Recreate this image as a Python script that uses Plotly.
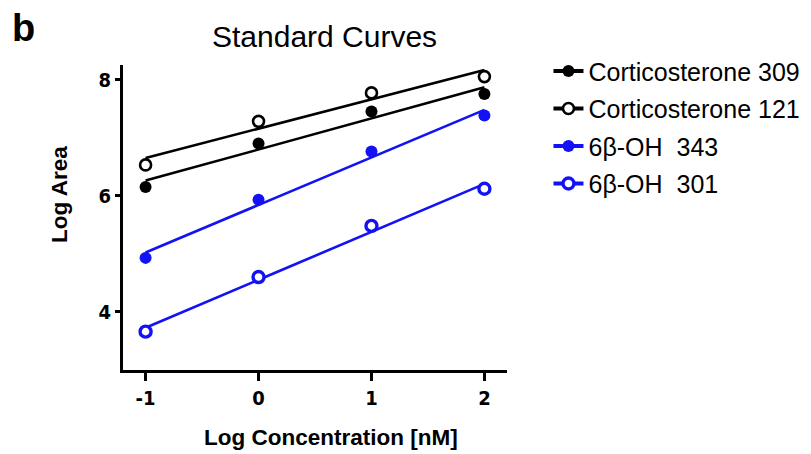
import numpy as np
import plotly.graph_objects as go

log_conc = [-1, 0, 1, 2]
series_names = ["Corticosterone 309", "Corticosterone 121", "6β-OH  343", "6β-OH  301"]
cort_309 = [6.15, 6.90, 7.45, 7.75]
cort_121 = [6.53, 7.28, 7.77, 8.05]
oh_343 = [4.93, 5.93, 6.76, 7.38]
oh_301 = [3.66, 4.60, 5.48, 6.12]
x_ticks = [-1, 0, 1, 2]
y_ticks = [4, 6, 8]

BLUE = "#1212f5"
styles = [
    dict(color="black", open=False, lw=2.6),
    dict(color="black", open=True, lw=2.6),
    dict(color=BLUE, open=False, lw=3.2),
    dict(color=BLUE, open=True, lw=3.4),
]
data = [cort_309, cort_121, oh_343, oh_301]

fig = go.Figure()
xs = np.array(log_conc, dtype=float)
for name, ys, st in zip(series_names, data, styles):
    ys = np.array(ys, dtype=float)
    slope, icpt = np.polyfit(xs, ys, 1)
    xl = np.array([xs.min(), xs.max()])
    if st["open"]:
        marker = dict(symbol="circle", size=11, color="white",
                      line=dict(color=st["color"], width=st["lw"]))
    else:
        marker = dict(symbol="circle", size=12, color=st["color"],
                      line=dict(color=st["color"], width=0))
    fig.add_trace(go.Scatter(x=xl, y=slope * xl + icpt, mode="lines",
                             line=dict(color=st["color"], width=2.6),
                             showlegend=False, hoverinfo="skip"))
    fig.add_trace(go.Scatter(x=xs, y=ys, mode="markers", marker=marker,
                             showlegend=False, name=name))
    fig.add_trace(go.Scatter(x=[None], y=[None], mode="lines+markers", name=name,
                             marker=marker, line=dict(color=st["color"], width=4),
                             legendgroup=name, showlegend=True))

tick_font = dict(family="DejaVu Sans Condensed, Liberation Sans Narrow, Arial Narrow",
                 size=20, color="black")
label_font = dict(size=22.5, family="Liberation Sans, Arial", color="black")
fig.update_layout(
    width=803, height=446,
    margin=dict(l=115, r=304, t=57, b=84, autoexpand=False),
    plot_bgcolor="white", paper_bgcolor="white",
    font=dict(family="Liberation Sans, Arial", color="black"),
    legend=dict(x=1.108, y=1.055, xanchor="left", yanchor="top",
                font=dict(size=25, family="Liberation Sans, Arial", color="black"),
                tracegroupgap=2, bgcolor="rgba(0,0,0,0)", itemwidth=30),
    xaxis=dict(range=[-1.2, 2.2], tickvals=x_ticks, ticktext=[f"<b>{v}</b>" for v in x_ticks],
               automargin=False,
               showgrid=False, zeroline=False, showline=True, linecolor="black", linewidth=3,
               ticks="outside", ticklen=8, tickwidth=2.5, tickcolor="black",
               tickfont=tick_font),
    yaxis=dict(range=[3.0, 8.25], tickvals=y_ticks, ticktext=[f"<b>{v}</b>" for v in y_ticks],
               automargin=False,
               showgrid=False, zeroline=False, showline=True, linecolor="black", linewidth=3,
               ticks="outside", ticklen=5, tickwidth=2.5, tickcolor="black",
               tickfont=tick_font),
)
fig.add_annotation(text="<b>Log Concentration [nM]</b>", xref="paper", yref="paper",
                   x=0.542, y=-0.22, xanchor="center", yanchor="middle",
                   showarrow=False, font=label_font)
fig.add_annotation(text="<b>Log Area</b>", xref="paper", yref="paper", textangle=-90,
                   x=-0.164, y=0.574, xanchor="center", yanchor="middle",
                   showarrow=False, font=label_font)
fig.add_annotation(text="Standard Curves", xref="paper", yref="paper", x=0.526, y=1.095,
                   xanchor="center", yanchor="middle", showarrow=False,
                   font=dict(size=30, family="Liberation Sans, Arial", color="black"))
fig.add_annotation(text="<b>b</b>", xref="paper", yref="paper", x=-0.26, y=1.12,
                   xanchor="center", yanchor="middle", showarrow=False,
                   font=dict(size=38, family="Liberation Sans, Arial", color="black"))
fig.write_html("out.html")
